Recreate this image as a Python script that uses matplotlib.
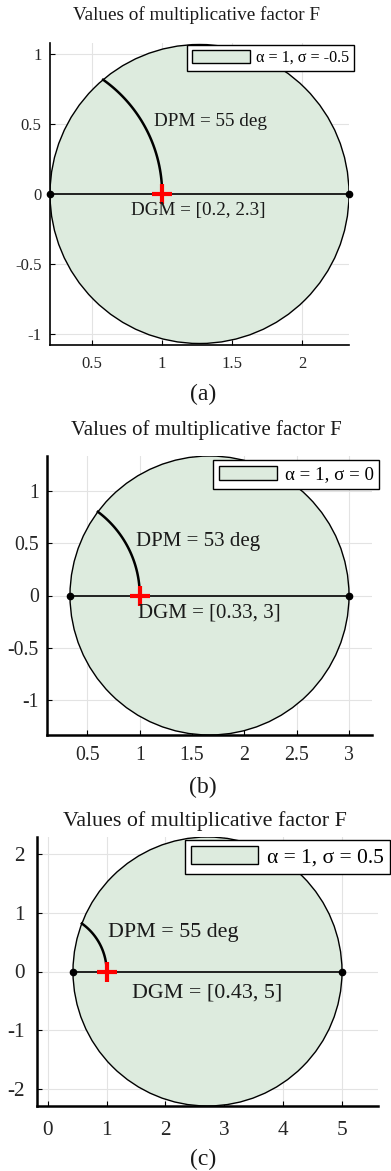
import numpy as np
import matplotlib
matplotlib.use("Agg")
import matplotlib.pyplot as plt
from matplotlib.patches import Circle, Patch

plt.rcParams['font.family'] = ['Liberation Serif', 'DejaVu Serif']
plt.rcParams['axes.unicode_minus'] = False

# disk-margin data for the three cases
panel_tags = ['(a)', '(b)', '(c)']
sigmas = ['-0.5', '0', '0.5']
gain_min = [0.2, 0.3333, 0.4286]
gain_max = [2.3333, 3.0, 5.0]
dpm_labels = ['55', '53', '55']
dgm_labels = ['[0.2, 2.3]', '[0.33, 3]', '[0.43, 5]']
xticks = [[0.5, 1, 1.5, 2], [0.5, 1, 1.5, 2, 2.5, 3], [0, 1, 2, 3, 4, 5]]
yticks = [[-1, -0.5, 0, 0.5, 1], [-1, -0.5, 0, 0.5, 1], [-2, -1, 0, 1, 2]]
# text anchor points (data coords) for DPM / DGM labels
dpm_pos = [(0.94, 0.52), (0.96, 0.52), (1.02, 0.66)]
dgm_pos = [(0.78, -0.12), (0.98, -0.17), (1.43, -0.36)]

W, H = 391, 1171
fig = plt.figure(figsize=(W / 100, H / 100), dpi=100)

# axes boxes in pixels: left, top, right, bottom
boxes = [(50, 43, 349, 345), (47, 456, 372, 735), (37, 837, 378, 1106)]
scale = [1.0, 1.09, 1.15]
spine_w = [1.2, 1.8, 1.8]
tick_fs = [12, 14.3, 15.3]
xpad = [8, 8, 11]
ypad = [6, 6, 9]
title_y = [15, 430, 821]
tag_y = [394, 787, 1159]
legend_xy = [(187, 45), (213, 460), (185, 840)]
legend_fs = [11.6, 13.6, 15.5]
legend_hl = [3.6, 3.1, 3.1]
legend_hh = [0.9, 0.75, 0.9]

fill_c = '#ddebde'

def px(x, y):
    return x / W, 1 - y / H

for i in range(3):
    l, t, r, b = boxes[i]
    s = scale[i]
    ax = fig.add_axes([l / W, 1 - b / H, (r - l) / W, (b - t) / H])
    g0, g1 = gain_min[i], gain_max[i]
    c = (g0 + g1) / 2
    rad = (g1 - g0) / 2

    ax.add_patch(Circle((c, 0), rad, facecolor=fill_c, edgecolor='black', lw=1.0, zorder=2))
    ax.plot([g0, g1], [0, 0], color='black', lw=1.2, zorder=3)
    ax.plot([g0, g1], [0, 0], 'o', color='black', ms=4.5, zorder=8, clip_on=False)

    # phase margin arc on unit circle up to the intersection with the disk
    xi = (1 + c ** 2 - rad ** 2) / (2 * c)
    th = np.linspace(0, np.arccos(xi), 100)
    ax.plot(np.cos(th), np.sin(th), color='black', lw=1.8, zorder=4)
    ax.plot([1], [0], '+', color='red', ms=15, mew=3.0, zorder=5)

    ax.text(dpm_pos[i][0], dpm_pos[i][1], 'DPM = %s deg' % dpm_labels[i],
            fontsize=13.8 * s, va='center', ha='left', color='#1a1a1a', zorder=6)
    ax.text(dgm_pos[i][0], dgm_pos[i][1], 'DGM = %s' % dgm_labels[i],
            fontsize=13.8 * s, va='center', ha='left', color='#1a1a1a', zorder=6)

    # equal-aspect limits, tight around the disk
    ratio = (r - l) / (b - t)
    half_x = rad * ratio
    half_y = rad
    if half_x < rad:
        half_x = rad
        half_y = rad / ratio
    ax.set_xlim(c - half_x, c + half_x)
    ax.set_ylim(-half_y, half_y)

    ax.set_xticks(xticks[i])
    ax.set_yticks(yticks[i])
    ax.set_xticklabels(['%g' % v for v in xticks[i]])
    ax.set_yticklabels(['%g' % v for v in yticks[i]])
    ax.grid(True, color='#e3e3e3', lw=0.8, zorder=0)
    ax.set_axisbelow(True)
    for sp in ['top', 'right']:
        ax.spines[sp].set_visible(False)
    for sp in ['left', 'bottom']:
        ax.spines[sp].set_linewidth(spine_w[i])
        ax.spines[sp].set_zorder(7)
    ax.tick_params(direction='in', length=3.5, width=0.8, labelsize=tick_fs[i],
                   labelcolor='#262626')
    ax.tick_params(axis='x', pad=xpad[i])
    ax.tick_params(axis='y', pad=ypad[i])

    fig.text(*px((l + r) / 2 - 3, title_y[i]), 'Values of multiplicative factor F',
             ha='center', va='center', fontsize=13.8 * s, color='#1a1a1a')
    fig.text(*px(203, tag_y[i]), panel_tags[i],
             ha='center', va='center', fontsize=17, color='#1a1a1a')

    h = Patch(facecolor=fill_c, edgecolor='black', lw=1.0)
    fig.legend([h], ['\u03b1 = 1, \u03c3 = %s' % sigmas[i]],
               loc='upper left', bbox_to_anchor=px(*legend_xy[i]),
               fontsize=legend_fs[i], frameon=True, fancybox=False,
               edgecolor='black', framealpha=1, borderaxespad=0,
               handlelength=legend_hl[i], handleheight=legend_hh[i],
               borderpad=0.3, handletextpad=0.4)

fig.savefig('out.png', dpi=100)
